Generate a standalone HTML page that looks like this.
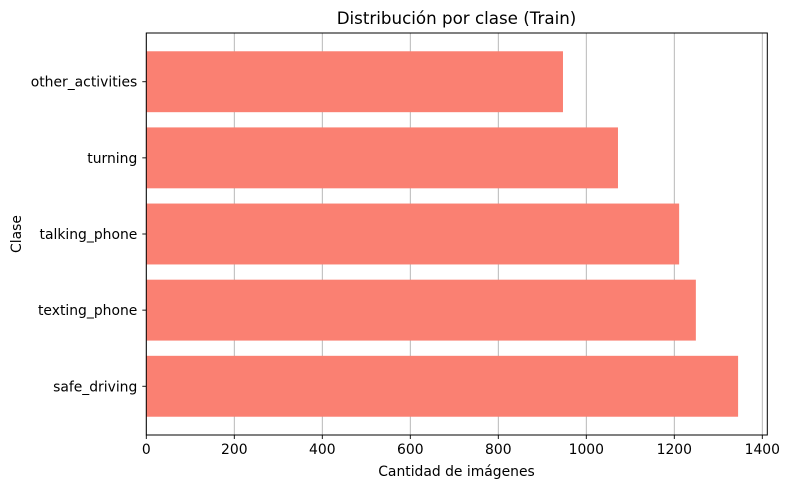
<!DOCTYPE html>
<html><head><meta charset="utf-8"><style>
body{margin:0;background:#fff;font-family:"DejaVu Sans","Liberation Sans",sans-serif;}
svg text{font-family:"DejaVu Sans","Liberation Sans",sans-serif;}
</style></head><body>
<svg id="chart" width="789" height="490" xmlns="http://www.w3.org/2000/svg">
<rect width="789" height="490" fill="#fff"/>
<g id="grid"></g><g id="bars"></g><g id="axes"></g>
<text x="456.5" y="24" font-size="16.7" text-anchor="middle" fill="#000">Distribución por clase (Train)</text>
<text x="456.5" y="476" font-size="13.9" text-anchor="middle" fill="#000">Cantidad de imágenes</text>
<text x="21" y="234" font-size="13.9" text-anchor="middle" fill="#000" transform="rotate(-90 21 234)">Clase</text>
</svg>
<script>
const categories = ["safe_driving","texting_phone","talking_phone","turning","other_activities"];
const counts = [1345, 1249, 1211, 1072, 947];
const xTicks = [0,200,400,600,800,1000,1200,1400];

const L=146.3, R=767.3, T=33, B=435;
const xs = v => L + v*0.44;
const step = (B-T)/5.28;
const ys = i => B - (0.64 + i)*step;
const NS="http://www.w3.org/2000/svg";
function mk(tag, attrs, parent){const e=document.createElementNS(NS,tag);for(const k in attrs)e.setAttribute(k,attrs[k]);parent.appendChild(e);return e;}
const grid=document.getElementById('grid'), bars=document.getElementById('bars'), axes=document.getElementById('axes');
xTicks.forEach(t=>{
  const x=xs(t);
  const g=mk('line',{x1:x,x2:x,y1:T,y2:B,stroke:'#b0b0b0','stroke-width':0.9},grid);
  
  
  const tk=mk('line',{x1:x,x2:x,y1:B,y2:B+4,stroke:'#000','stroke-width':0.9},axes);
  
  
  const tx=mk('text',{x:x,y:B+19,'font-size':13.9,'text-anchor':'middle',fill:'#000'},axes);
  tx.textContent=t;
  
  
});
categories.forEach((c,i)=>{
  const y=ys(i);
  const r=mk('rect',{x:L,y:y-0.4*step,width:xs(counts[i])-L,height:0.8*step,fill:'#fa8072'},bars);
  
  
  const tk=mk('line',{x1:L-4,x2:L,y1:y,y2:y,stroke:'#000','stroke-width':0.9},axes);
  
  
  const tx=mk('text',{x:L-9,y:y+5,'font-size':13.9,'text-anchor':'end',fill:'#000'},axes);
  tx.textContent=c;
  
  
});
const fr=mk('rect',{x:L,y:T,width:R-L,height:B-T,fill:'none',stroke:'#000','stroke-width':1},axes);


</script>
</body></html>
